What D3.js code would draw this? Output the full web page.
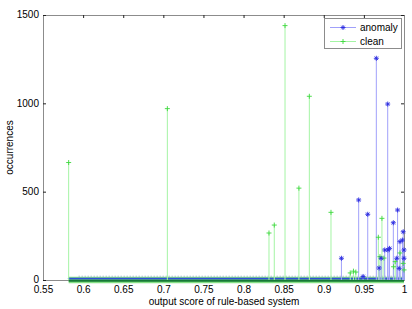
<!DOCTYPE html>
<html><head><meta charset="utf-8">
<script src="https://cdn.jsdelivr.net/npm/d3@7"></script>
<style>
body{margin:0;background:#fff}
svg{display:block}
text{font-family:"Liberation Sans",Arial,sans-serif;font-size:10px;fill:#000}
</style>
</head><body>
<script>
// ---- data ----
const cleanScores = [0.582, 0.705, 0.8317, 0.8383, 0.8517, 0.869, 0.882, 0.909, 0.933, 0.937, 0.940, 0.968, 0.970, 0.9725, 0.975, 0.987, 0.989, 0.995, 0.999, 1.0];
const cleanCounts = [665, 970, 266, 311, 1440, 520, 1040, 383, 40, 50, 45, 242, 132, 349, 124, 75, 104, 153, 94, 57];
const anomalyScores = [0.922, 0.9435, 0.949, 0.9548, 0.9655, 0.969, 0.9715, 0.976, 0.9797, 0.980, 0.982, 0.9867, 0.991, 0.992, 0.994, 0.995, 0.998, 0.999, 1.0, 1.0];
const anomalyCounts = [123, 453, 20, 372, 1255, 68, 123, 170, 996, 170, 179, 324, 123, 396, 66, 217, 226, 273, 170, 123];
const baselineRange = [0.582, 1.0];   // span of the many zero-count bins
const xTicks = [0.55, 0.6, 0.65, 0.7, 0.75, 0.8, 0.85, 0.9, 0.95, 1];
const yTicks = [0, 500, 1000, 1500];
const seriesNames = ["anomaly", "clean"];
const xTitle = "output score of rule-based system";
const yTitle = "occurrences";

const W = 412, H = 309;
const m = {l: 43, r: 8, t: 15, b: 29};
const svg = d3.select("body").append("svg").attr("width", W).attr("height", H);
const x = d3.scaleLinear().domain([0.55, 1]).range([m.l, W - m.r]);
const y = d3.scaleLinear().domain([0, 1500]).range([H - m.b, m.t]);

const fmtX = d => (d === 1 ? "1" : String(d));
const fmtY = d => String(d);

// axes box
const gx = svg.append("g").attr("transform", `translate(0,${H - m.b})`)
  .call(d3.axisBottom(x).tickValues(xTicks).tickFormat(fmtX).tickSize(-3).tickPadding(6));
const gxt = svg.append("g").attr("transform", `translate(0,${m.t})`)
  .call(d3.axisTop(x).tickValues(xTicks).tickFormat("").tickSize(-3));
const gy = svg.append("g").attr("transform", `translate(${m.l},0)`)
  .call(d3.axisLeft(y).tickValues(yTicks).tickFormat(fmtY).tickSize(-3).tickPadding(4));
const gyr = svg.append("g").attr("transform", `translate(${W - m.r},0)`)
  .call(d3.axisRight(y).tickValues(yTicks).tickFormat("").tickSize(-3));
[gx, gxt, gy, gyr].forEach(g => {
  g.select(".domain").attr("stroke", "#8c8c8c");
  g.selectAll(".tick line").attr("stroke", "#222");
  g.selectAll("text").attr("fill", "#000").style("font-size", "10px")
    .style("font-family", '"Liberation Sans",Arial,sans-serif');
});
gy.selectAll(".tick text").attr("dy", "0.28em");

// titles
svg.append("text").attr("x", 224).attr("y", 305).attr("text-anchor", "middle").text(xTitle);
svg.append("text").attr("transform", `translate(12.5,${(m.t + H - m.b) / 2}) rotate(-90)`)
  .attr("text-anchor", "middle").text(yTitle);

// marker makers
function star(g, cx, cy, col, s) {
  const p = `M${cx - s},${cy}H${cx + s}M${cx},${cy - s}V${cy + s}` +
    `M${cx - s * .7},${cy - s * .7}L${cx + s * .7},${cy + s * .7}M${cx - s * .7},${cy + s * .7}L${cx + s * .7},${cy - s * .7}`;
  g.append("path").attr("d", p).attr("stroke", col).attr("stroke-width", 0.9).attr("fill", "none");
}
function plus(g, cx, cy, col, s) {
  g.append("path").attr("d", `M${cx - s},${cy}H${cx + s}M${cx},${cy - s}V${cy + s}`)
    .attr("stroke", col).attr("stroke-width", 0.9).attr("fill", "none");
}

const plot = svg.append("g");
const y0 = y(0);

// baseline band formed by the zero-count stems
plot.append("line").attr("x1", x(baselineRange[0])).attr("x2", x(baselineRange[1]))
  .attr("y1", y0).attr("y2", y0).attr("stroke", "#86e086").attr("stroke-width", 6.5);
plot.append("line").attr("x1", x(baselineRange[0])).attr("x2", x(baselineRange[1]))
  .attr("y1", y0 - 1.4).attr("y2", y0 - 1.4).attr("stroke", "#2f4fd8").attr("stroke-width", 1.8)
  .attr("stroke-linecap", "round");
plot.append("line").attr("x1", x(baselineRange[0])).attr("x2", x(baselineRange[1]))
  .attr("y1", y0 + 0.8).attr("y2", y0 + 0.8).attr("stroke", "#157a35").attr("stroke-width", 2);
plot.append("line").attr("x1", x(baselineRange[0]) + 10).attr("x2", x(baselineRange[1]))
  .attr("y1", y0 - 3.8).attr("y2", y0 - 3.8).attr("stroke", "#5a6aa8").attr("stroke-width", 1)
  .attr("stroke-dasharray", "1,2").attr("opacity", 0.6);

// clean stems
cleanScores.forEach((s, i) => {
  plot.append("line").attr("x1", x(s)).attr("x2", x(s)).attr("y1", y0).attr("y2", y(cleanCounts[i]))
    .attr("stroke", "#a4f4a4").attr("stroke-width", 1);
});
// anomaly stems
anomalyScores.forEach((s, i) => {
  plot.append("line").attr("x1", x(s)).attr("x2", x(s)).attr("y1", y0).attr("y2", y(anomalyCounts[i]))
    .attr("stroke", "#a0a0fa").attr("stroke-width", 1);
});
cleanScores.forEach((s, i) => plus(plot, x(s), y(cleanCounts[i]), "#3cd83c", 2.5));
anomalyScores.forEach((s, i) => star(plot, x(s), y(anomalyCounts[i]), "#2a2ae0", 2.5));

// legend
const lg = svg.append("g");
lg.append("rect").attr("x", 324.5).attr("y", 18.5).attr("width", 77).attr("height", 30)
  .attr("fill", "#fff").attr("stroke", "#8c8c8c");
const cols = ["#2a2ae0", "#3cd83c"], stemCols = ["#a0a0fa", "#a4f4a4"];
seriesNames.forEach((n, i) => {
  const ly = 27.5 + i * 14;
  lg.append("line").attr("x1", 330).attr("x2", 356).attr("y1", ly).attr("y2", ly)
    .attr("stroke", stemCols[i]).attr("stroke-width", 1);
  if (i === 0) star(lg, 343, ly, cols[i], 2.5); else plus(lg, 343, ly, cols[i], 2.5);
  lg.append("text").attr("x", 360).attr("y", ly + 3.5).text(n);
});
</script>
</body></html>
